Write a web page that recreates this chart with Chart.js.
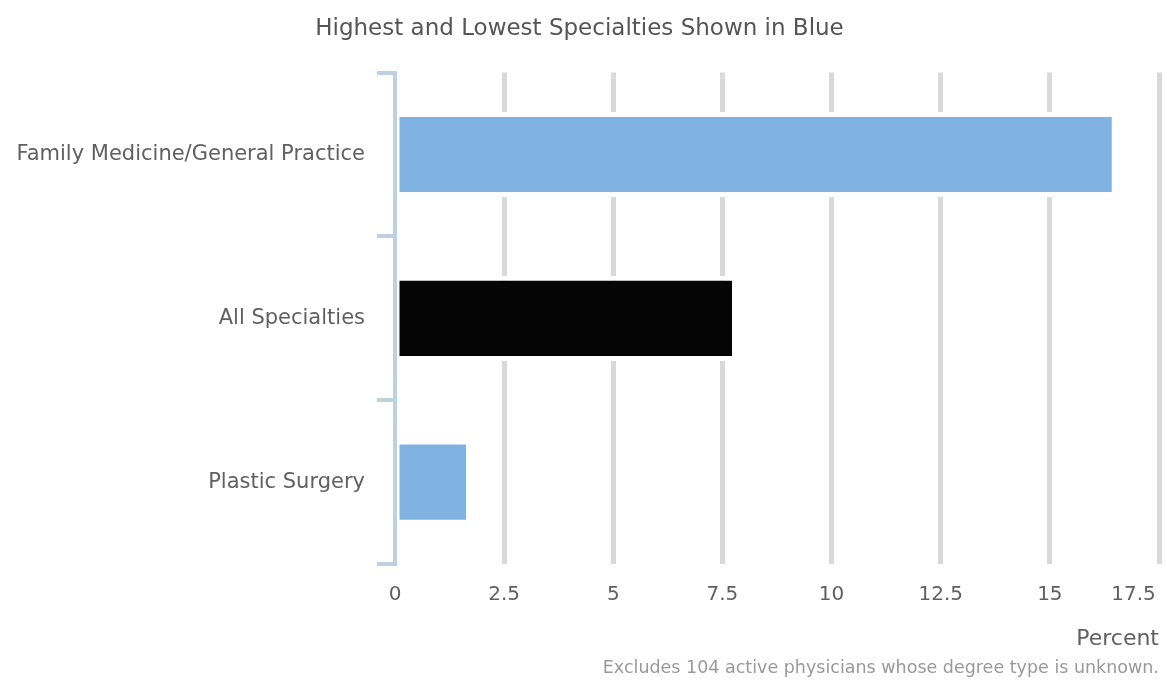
<!DOCTYPE html>
<html>
<head>
<meta charset="utf-8">
<script src="https://cdn.jsdelivr.net/npm/chart.js@4"></script>
<style>
  html, body { margin: 0; padding: 0; background: #fff; }
  #wrap { width: 1167px; height: 681px; position: relative; }
</style>
</head>
<body>
<div id="wrap"><canvas id="c"></canvas></div>
<script>
const categories = ['Family Medicine/General Practice', 'All Specialties', 'Plastic Surgery'];
const percentValues = [16.42, 7.72, 1.63];
const barColors = ['#7fb2e0', '#050505', '#7fb2e0'];
const xTickValues = [0, 2.5, 5, 7.5, 10, 12.5, 15, 17.5];
const titleText = 'Highest and Lowest Specialties Shown in Blue';
const xAxisTitle = 'Percent';
const footnote = 'Excludes 104 active physicians whose degree type is unknown.';

const FONT = "'DejaVu Sans', sans-serif";

new Chart(document.getElementById('c'), {
  type: 'bar',
  data: {
    labels: categories,
    datasets: [{
      data: percentValues,
      backgroundColor: barColors,
      borderColor: '#ffffff',
      borderWidth: { top: 5, bottom: 5, left: 2, right: 0 },
      borderSkipped: false,
      barPercentage: 0.52,
      categoryPercentage: 1.0
    }]
  },
  options: {
    indexAxis: 'y',
    responsive: true,
    maintainAspectRatio: false,
    animation: false,
    layout: { padding: { left: 0, right: 8, top: 0, bottom: 0 } },
    plugins: {
      legend: { display: false },
      tooltip: { enabled: false },
      title: {
        display: true,
        text: titleText,
        color: '#555555',
        font: { family: FONT, size: 23, weight: 'normal' },
        padding: { top: 15, bottom: 30 }
      },
      subtitle: {
        display: true,
        text: footnote,
        position: 'bottom',
        align: 'end',
        color: '#999999',
        font: { family: FONT, size: 17.5, weight: 'normal' },
        padding: { top: 5.5, bottom: 2 }
      }
    },
    scales: {
      x: {
        type: 'linear',
        min: 0,
        max: 17.5,
        afterBuildTicks(scale) {
          scale.ticks = xTickValues.map(v => ({ value: v }));
        },
        afterFit(scale) { scale.paddingRight = 0; scale.paddingLeft = 0; },
        ticks: {
          color: '#606060',
          font: { family: FONT, size: 20 },
          padding: 19,
          maxRotation: 0,
          callback(v) {
            const s = String(v);
            return v === xTickValues[xTickValues.length - 1] ? s + '        ' : s;
          }
        },
        grid: {
          color: (ctx) => (ctx.tick && ctx.tick.value === 0) ? 'rgba(0,0,0,0)' : '#d9d9d9',
          lineWidth: 5,
          drawTicks: false
        },
        border: { display: false },
        title: {
          display: true,
          text: xAxisTitle,
          align: 'end',
          color: '#606060',
          font: { family: FONT, size: 22 },
          padding: { top: 0, bottom: 0 }
        }
      },
      y: {
        type: 'category',
        offset: true,
        afterFit(scale) { scale.width = 395; },
        ticks: {
          color: '#606060',
          font: { family: FONT, size: 21 },
          padding: 12
        },
        grid: {
          offset: true,
          drawOnChartArea: false,
          drawTicks: true,
          tickLength: 18,
          color: '#bed1e4',
          lineWidth: 4
        },
        border: { display: true, color: '#bed1e4', width: 4 }
      }
    }
  }
});
</script>
</body>
</html>
